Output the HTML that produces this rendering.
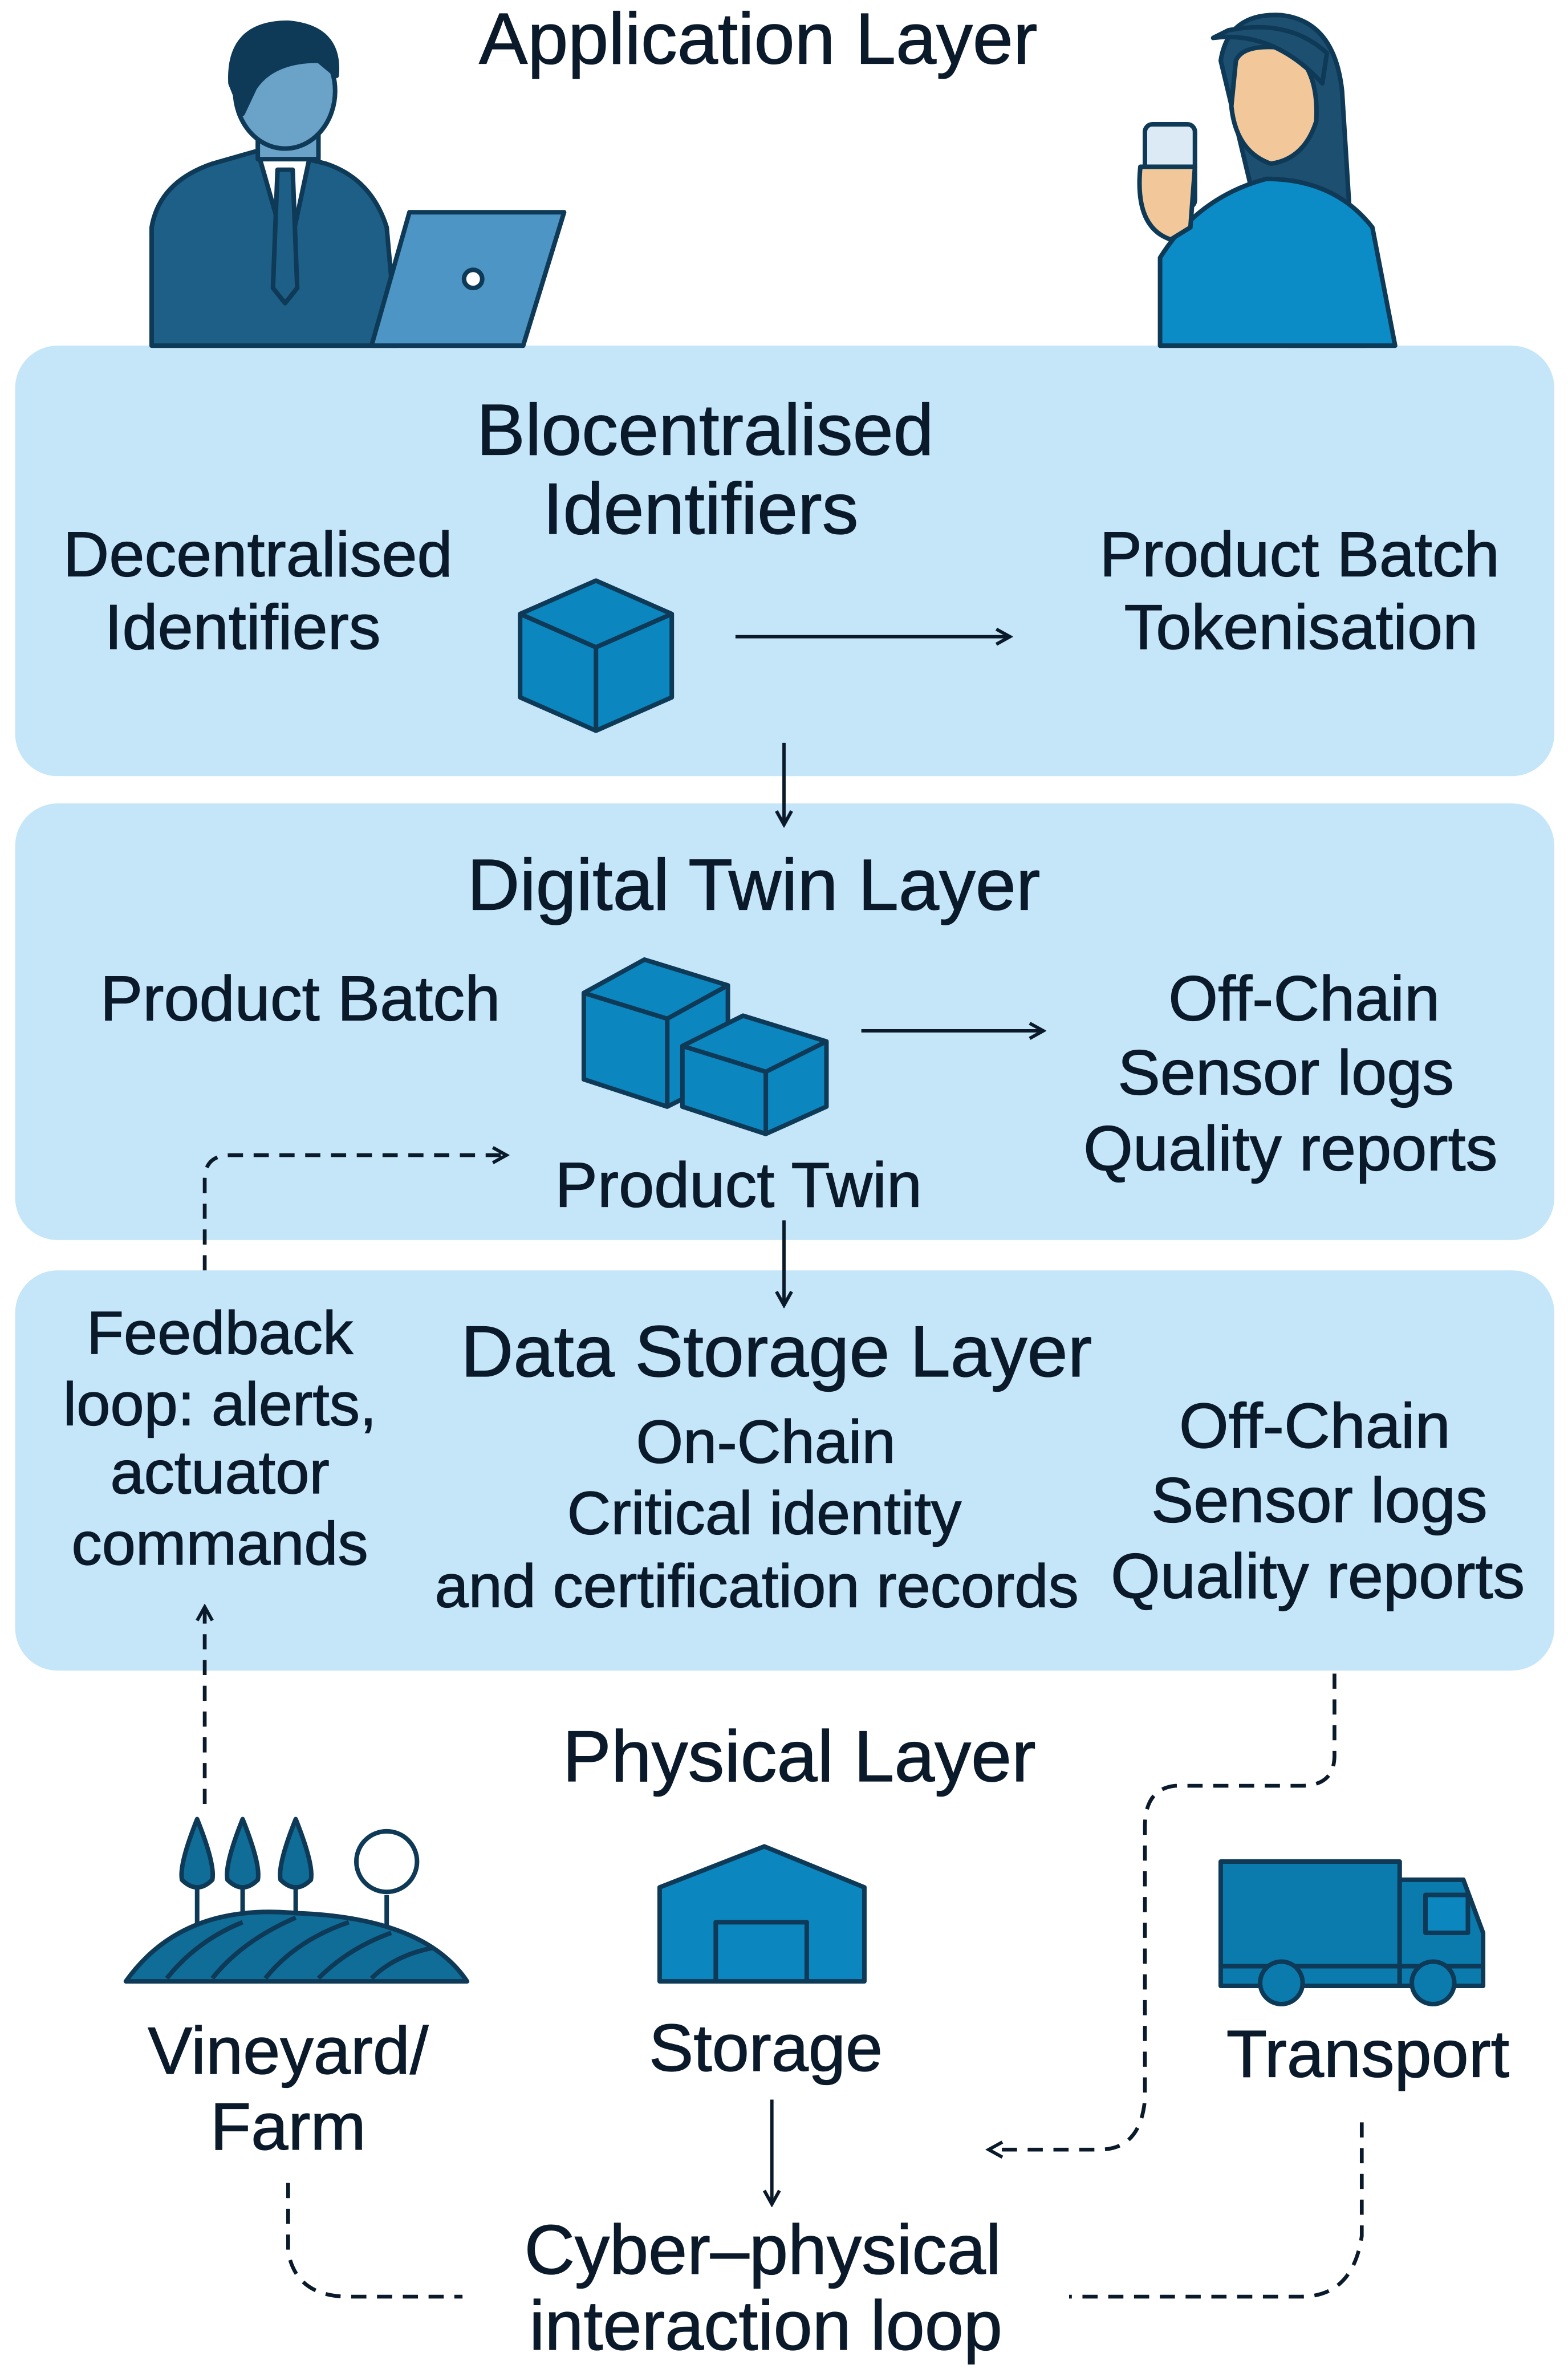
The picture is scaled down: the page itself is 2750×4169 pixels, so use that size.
<!DOCTYPE html>
<html><head><meta charset="utf-8"><style>
html,body{margin:0;padding:0;background:#fff}
svg{display:block}
text{font-family:"Liberation Sans",sans-serif;fill:#0b1a2a;text-anchor:middle;stroke:#0b1a2a;stroke-width:0.5}
.t{font-size:48px}.b{font-size:42px}.c{font-size:40px}
</style></head><body>
<svg width="2750" height="4169" viewBox="0 0 1034 1568" preserveAspectRatio="none" xmlns="http://www.w3.org/2000/svg">
<defs>
<marker id="ah" markerWidth="12" markerHeight="12" refX="10" refY="6" orient="auto" markerUnits="userSpaceOnUse"><path d="M1,1 L10,6 L1,11" fill="none" stroke="#0b1a2a" stroke-width="2.2"/></marker>
</defs>
<g fill="#c4e6f8">
<rect x="10" y="228" width="1015" height="284" rx="28"/>
<rect x="10" y="530" width="1015" height="288" rx="28"/>
<rect x="10" y="838" width="1015" height="264" rx="28"/>
</g>
<!-- man -->
<g stroke="#0e3a57" stroke-width="3" stroke-linejoin="round">
<path d="M100,228 L100,150 Q105,120 140,108 L175,98 L215,108 Q245,118 255,150 L262,228 Z" fill="#1d5f86"/>
<path d="M170,100 L190,170 L205,100 Z" fill="#fff"/>
<path d="M183,112 L193,112 L196,190 L188,200 L180,190 Z" fill="#1d5f86"/>
<rect x="170" y="60" width="40" height="45" fill="#6aa2c8"/>
<ellipse cx="188" cy="60" rx="33" ry="38" fill="#6aa2c8"/>
<path d="M152,55 Q150,15 190,15 Q225,18 222,50 L210,40 Q180,40 168,58 L160,75 Z" fill="#0e3a57"/>
<path d="M245,228 L270,140 L372,140 L345,228 Z" fill="#4d95c4"/>
<circle cx="312" cy="184" r="6" fill="#fff"/>
</g>
<!-- woman -->
<g stroke="#0e3a57" stroke-width="3" stroke-linejoin="round">
<path d="M805,40 Q810,8 845,10 Q880,14 885,60 L890,140 L900,228 L850,228 Z" fill="#1d4f70"/>
<path d="M765,228 L765,170 Q790,130 835,118 Q880,118 905,150 L920,228 Z" fill="#0c8cc7"/>
<path d="M815,40 Q820,28 850,32 Q870,45 868,80 Q860,105 838,108 Q815,100 812,70 Z" fill="#f2c89a"/>
<path d="M800,25 Q840,20 872,55 L875,35 Q850,12 810,20 Z" fill="#1d4f70"/>
<rect x="755" y="82" width="33" height="55" rx="5" fill="#dbeaf4"/>
<path d="M752,110 Q748,150 772,158 L785,150 L788,110 Z" fill="#f2c89a"/>
</g>
<text x="500" y="42" class="t">Application Layer</text>
<text x="465" y="300" class="t">Blocentralised</text>
<text x="462" y="352" class="t">Identifiers</text>
<text x="170" y="380" class="b">Decentralised</text>
<text x="160" y="428" class="b">Identifiers</text>
<text x="857" y="380" class="b">Product Batch</text>
<text x="858" y="428" class="b">Tokenisation</text>
<!-- cube -->
<g stroke="#0e3a57" stroke-width="3" stroke-linejoin="round">
<path d="M343,405 L393,383 L443,405 L443,460 L393,482 L343,460 Z" fill="#0b86bf"/>
<path d="M343,405 L393,427 L443,405 M393,427 L393,482" fill="none"/>
</g>
<g stroke="#0b1a2a" stroke-width="2.2" fill="none">
<line x1="485" y1="420" x2="666" y2="420" marker-end="url(#ah)"/>
<line x1="517" y1="490" x2="517" y2="544" marker-end="url(#ah)"/>
<line x1="568" y1="680" x2="688" y2="680" marker-end="url(#ah)"/>
<line x1="517" y1="805" x2="517" y2="861" marker-end="url(#ah)"/>
<line x1="509" y1="1385" x2="509" y2="1454" marker-end="url(#ah)"/>
</g>
<text x="497" y="600" class="t">Digital Twin Layer</text>
<text x="198" y="673" class="b">Product Batch</text>
<g stroke="#0e3a57" stroke-width="3" stroke-linejoin="round">
<path d="M385,655 L425,633 L480,650 L480,710 L440,730 L385,712 Z" fill="#0b86bf"/>
<path d="M385,655 L440,672 L480,650 M440,672 L440,730" fill="none"/>
<path d="M450,690 L490,670 L545,687 L545,730 L505,748 L450,730 Z" fill="#0b86bf"/>
<path d="M450,690 L505,707 L545,687 M505,707 L505,748" fill="none"/>
</g>
<text x="860" y="673" class="b">Off-Chain</text>
<text x="848" y="722" class="b">Sensor logs</text>
<text x="851" y="772" class="b">Quality reports</text>
<text x="487" y="796" class="b">Product Twin</text>
<text x="512" y="908" class="t">Data Storage Layer</text>
<text x="145" y="893" class="c">Feedback</text>
<text x="145" y="940" class="c">loop: alerts,</text>
<text x="145" y="985" class="c">actuator</text>
<text x="145" y="1032" class="c">commands</text>
<text x="505" y="965" class="c">On-Chain</text>
<text x="504" y="1012" class="c">Critical identity</text>
<text x="499" y="1060" class="c">and certification records</text>
<text x="867" y="955" class="b">Off-Chain</text>
<text x="870" y="1004" class="b">Sensor logs</text>
<text x="869" y="1054" class="b">Quality reports</text>
<text x="527" y="1175" class="t">Physical Layer</text>
<g stroke="#0b1a2a" stroke-width="2.5" fill="none" stroke-dasharray="10,7">
<path d="M135,838 L135,778 Q135,762 152,762 L334,762" marker-end="url(#ah)"/>
<path d="M135,1190 L135,1060" marker-end="url(#ah)"/>
<path d="M880,1104 L880,1158 Q880,1178 858,1178 L775,1178 Q755,1180 755,1205 L755,1385 Q752,1418 725,1418 L652,1418" marker-end="url(#ah)"/>
<path d="M190,1440 L190,1485 Q195,1515 230,1515 L305,1515"/>
<path d="M898,1400 L898,1475 Q892,1515 858,1515 L705,1515"/>
</g>
<!-- farm -->
<g stroke="#0e3a57" stroke-width="3" stroke-linejoin="round" fill="#0f6d98">
<line x1="130" y1="1240" x2="130" y2="1275"/><line x1="160" y1="1240" x2="160" y2="1268"/><line x1="195" y1="1240" x2="195" y2="1265"/><line x1="255" y1="1250" x2="255" y2="1270"/>
<path d="M130,1200 Q118,1230 120,1240 Q130,1250 140,1240 Q142,1230 130,1200Z"/>
<path d="M160,1200 Q148,1230 150,1240 Q160,1250 170,1240 Q172,1230 160,1200Z"/>
<path d="M195,1200 Q183,1230 185,1240 Q195,1250 205,1240 Q207,1230 195,1200Z"/>
<circle cx="255" cy="1228" r="20" fill="#fff"/>
<path d="M83,1307 Q120,1255 195,1262 Q280,1265 308,1307 Z"/>
<path d="M110,1305 Q130,1280 160,1268 M140,1305 Q160,1280 195,1265 M175,1305 Q195,1280 230,1268 M210,1305 Q230,1285 258,1275 M245,1305 Q260,1290 285,1285" fill="none"/>
</g>
<!-- storage -->
<g stroke="#0e3a57" stroke-width="3" stroke-linejoin="round" fill="#0b86bf">
<path d="M435,1245 L504,1218 L570,1245 L570,1307 L435,1307 Z"/>
<rect x="472" y="1268" width="60" height="39"/>
</g>
<!-- truck -->
<g stroke="#0e3a57" stroke-width="3" stroke-linejoin="round" fill="#0b7bad">
<rect x="805" y="1228" width="118" height="82"/>
<path d="M923,1240 L965,1240 L978,1275 L978,1310 L923,1310 Z"/>
<rect x="940" y="1250" width="28" height="25" fill="#0b86bf"/>
<line x1="805" y1="1297" x2="978" y2="1297"/>
<circle cx="845" cy="1308" r="14"/><circle cx="945" cy="1308" r="14"/>
</g>
<text x="190" y="1368" style="font-size:44px">Vineyard/</text>
<text x="190" y="1418" style="font-size:44px">Farm</text>
<text x="505" y="1366" style="font-size:44px">Storage</text>
<text x="902" y="1370" style="font-size:44px">Transport</text>
<text x="503" y="1500" style="font-size:46px">Cyber–physical</text>
<text x="505" y="1550" style="font-size:46px">interaction loop</text>
</svg>
</body></html>
